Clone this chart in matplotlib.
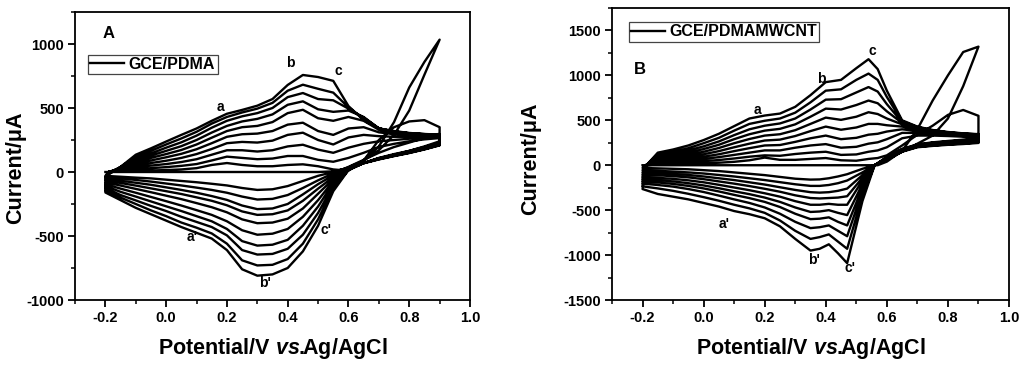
import matplotlib
matplotlib.use('Agg')
import matplotlib.pyplot as plt
from matplotlib.ticker import MultipleLocator

plt.rcParams['font.family'] = ['Liberation Sans', 'DejaVu Sans']
plt.rcParams['font.weight'] = 'bold'
plt.rcParams['axes.labelweight'] = 'bold'
plt.rcParams['axes.unicode_minus'] = False
plt.rcParams['mathtext.fontset'] = 'custom'
plt.rcParams['mathtext.rm'] = 'Liberation Sans:bold'
plt.rcParams['mathtext.it'] = 'Liberation Sans:italic:bold'
plt.rcParams['mathtext.bf'] = 'Liberation Sans:bold'

# ---- panel A: GCE/PDMA ----
# potentials of the anodic (forward) and cathodic (reverse) sweeps, V
E_fwd_A = [-0.2, -0.19, -0.15, -0.1, -0.05, 0.0, 0.05, 0.1, 0.15, 0.2, 0.25, 0.3,
           0.35, 0.4, 0.45, 0.5, 0.55, 0.6, 0.65, 0.7, 0.75, 0.8, 0.85, 0.9]
E_rev_A = [0.9, 0.85, 0.8, 0.75, 0.7, 0.65, 0.6, 0.55, 0.5, 0.45, 0.4, 0.35, 0.3,
           0.25, 0.2, 0.15, 0.1, 0.05, 0.0, -0.05, -0.1, -0.15, -0.2]

# anodic currents (uA), one row per scan
fwd_A = [
    [0, 0, 0, 0, 0, 0, 0, 0, 0, 0, 0, 0, 0, 0, 0, 0, 5, 30, 90, 200, 390, 660, 860, 1034],
    [-30, 0, 5, 10, 12, 15, 20, 30, 55, 70, 55, 45, 45, 55, 60, 45, 20, 10, 90, 250, 350, 395, 405, 350],
    [-40, 0, 10, 22, 30, 38, 48, 62, 90, 120, 110, 100, 105, 125, 125, 95, 80, 110, 150, 195, 220, 240, 255, 265],
    [-52, 0, 15, 35, 50, 62, 78, 100, 135, 170, 170, 160, 170, 200, 213, 175, 150, 190, 220, 240, 250, 260, 268, 275],
    [-65, 0, 20, 48, 70, 88, 110, 140, 180, 225, 235, 230, 245, 290, 307, 250, 215, 270, 290, 280, 275, 275, 278, 280],
    [-80, 0, 25, 62, 90, 115, 142, 178, 225, 275, 295, 300, 320, 370, 385, 320, 290, 340, 350, 310, 295, 288, 285, 283],
    [-95, 0, 30, 76, 110, 140, 172, 215, 268, 320, 350, 360, 390, 460, 486, 420, 400, 430, 400, 330, 305, 295, 290, 285],
    [-110, -5, 35, 90, 128, 165, 202, 250, 308, 360, 395, 415, 450, 525, 552, 490, 470, 480, 430, 340, 312, 300, 292, 288],
    [-125, -10, 38, 104, 145, 190, 232, 284, 346, 400, 435, 460, 500, 585, 617, 570, 560, 495, 425, 342, 315, 302, 294, 290],
    [-145, -15, 40, 118, 165, 215, 262, 314, 378, 430, 465, 495, 540, 635, 682, 650, 620, 505, 415, 340, 317, 303, 296, 290],
    [-160, -20, 40, 135, 185, 238, 290, 340, 400, 455, 485, 518, 570, 680, 758, 742, 712, 515, 405, 340, 320, 305, 297, 292],
]
# cathodic currents (uA), one row per scan
rev_A = [
    [1034, 760, 480, 290, 170, 90, 35, 0, -30, -70, -110, -135, -140, -125, -105, -92, -80, -70, -60, -50, -44, -37, -30],
    [300, 265, 230, 195, 150, 95, 40, -10, -65, -125, -180, -210, -215, -192, -162, -140, -122, -105, -90, -75, -62, -50, -40],
    [240, 200, 165, 135, 105, 70, 30, -25, -95, -175, -250, -285, -290, -262, -218, -188, -162, -140, -120, -100, -84, -68, -52],
    [208, 176, 148, 124, 98, 68, 27, -40, -130, -225, -300, -330, -335, -308, -260, -225, -198, -172, -150, -128, -106, -86, -65],
    [210, 178, 150, 126, 100, 70, 25, -55, -170, -285, -365, -395, -400, -370, -315, -275, -243, -212, -185, -158, -132, -106, -80],
    [212, 180, 152, 128, 102, 70, 22, -70, -220, -350, -445, -482, -490, -455, -385, -335, -298, -262, -228, -195, -162, -130, -95],
    [215, 182, 155, 130, 104, 70, 20, -85, -270, -420, -530, -568, -575, -540, -445, -385, -345, -305, -268, -230, -192, -155, -110],
    [220, 185, 158, 132, 106, 70, 18, -105, -320, -490, -600, -640, -645, -610, -495, -430, -390, -350, -305, -265, -222, -180, -125],
    [225, 190, 160, 135, 108, 70, 15, -125, -370, -560, -680, -725, -730, -690, -560, -480, -435, -395, -345, -300, -250, -200, -145],
    [230, 195, 165, 140, 110, 70, 15, -150, -420, -620, -750, -800, -810, -760, -610, -520, -475, -430, -380, -330, -280, -220, -160],
]

# ---- panel B: GCE/PDMAMWCNT ----
E_fwd_B = [-0.2, -0.19, -0.15, -0.1, -0.05, 0.0, 0.05, 0.1, 0.15, 0.2, 0.25, 0.3, 0.35,
           0.4, 0.45, 0.5, 0.54, 0.57, 0.6, 0.65, 0.7, 0.75, 0.8, 0.85, 0.9]
E_rev_B = [0.9, 0.85, 0.8, 0.75, 0.7, 0.65, 0.6, 0.56, 0.52, 0.47, 0.44, 0.41, 0.38,
           0.35, 0.3, 0.25, 0.2, 0.15, 0.1, 0.05, 0.0, -0.05, -0.1, -0.15, -0.2]

fwd_B = [
    [0, 0, 0, 0, 0, 0, 0, 0, 0, 0, 0, 0, 0, 0, 0, 0, 0, 0, 40, 160, 400, 720, 1000, 1260, 1320],
    [-30, 0, 8, 12, 16, 20, 28, 38, 55, 85, 60, 60, 70, 80, 55, 50, 70, 80, 110, 220, 340, 440, 560, 615, 550],
    [-55, 0, 18, 27, 35, 45, 58, 75, 95, 110, 105, 125, 140, 150, 115, 120, 150, 165, 200, 300, 330, 330, 325, 318, 310],
    [-80, 0, 30, 42, 55, 70, 90, 115, 140, 165, 165, 195, 220, 235, 195, 205, 240, 255, 290, 360, 360, 345, 335, 326, 318],
    [-105, 0, 42, 58, 75, 95, 122, 157, 190, 220, 225, 260, 300, 330, 290, 305, 340, 350, 375, 400, 380, 360, 345, 334, 325],
    [-130, 0, 55, 75, 96, 122, 157, 200, 240, 275, 285, 325, 380, 430, 395, 420, 460, 460, 445, 430, 395, 370, 352, 340, 330],
    [-155, 0, 70, 92, 118, 150, 192, 245, 292, 330, 345, 390, 460, 530, 505, 540, 590, 570, 520, 455, 405, 375, 356, 343, 334],
    [-180, 0, 85, 110, 140, 180, 228, 290, 345, 385, 405, 455, 540, 630, 620, 670, 720, 690, 600, 470, 412, 380, 360, 346, 337],
    [-205, -5, 100, 130, 165, 210, 265, 335, 400, 440, 465, 520, 620, 730, 735, 810, 870, 820, 680, 480, 420, 384, 363, 349, 340],
    [-235, -10, 120, 150, 190, 245, 305, 385, 460, 495, 520, 585, 700, 830, 845, 950, 1020, 950, 760, 490, 425, 388, 366, 352, 343],
    [-265, -10, 140, 175, 220, 280, 350, 435, 520, 553, 575, 650, 780, 925, 950, 1080, 1180, 1070, 830, 500, 430, 392, 370, 355, 346],
]
rev_B = [
    [1320, 880, 520, 330, 240, 150, 60, 0, -40, -100, -125, -145, -158, -160, -150, -130, -110, -95, -80, -65, -55, -45, -40, -35, -30],
    [300, 285, 270, 255, 232, 182, 92, 0, -80, -170, -200, -220, -230, -230, -212, -188, -165, -145, -125, -108, -92, -80, -70, -62, -55],
    [292, 278, 264, 250, 228, 178, 88, 0, -110, -260, -285, -300, -305, -300, -275, -245, -215, -190, -165, -145, -125, -108, -96, -88, -80],
    [285, 272, 258, 245, 224, 174, 84, 0, -140, -345, -360, -365, -370, -365, -335, -295, -262, -232, -205, -180, -155, -135, -122, -112, -105],
    [278, 266, 252, 240, 220, 170, 80, 0, -170, -440, -440, -430, -440, -440, -400, -350, -312, -278, -248, -218, -190, -168, -152, -140, -130],
    [272, 260, 247, 235, 216, 166, 76, 0, -210, -555, -530, -500, -515, -520, -470, -408, -360, -322, -290, -256, -225, -200, -180, -166, -155],
    [266, 254, 242, 230, 212, 162, 72, 0, -250, -670, -630, -580, -595, -600, -540, -465, -408, -366, -330, -292, -258, -230, -208, -192, -180],
    [260, 248, 237, 225, 208, 158, 68, 0, -290, -790, -730, -670, -690, -700, -630, -540, -470, -420, -380, -338, -298, -265, -238, -220, -205],
    [254, 242, 232, 220, 204, 154, 64, 0, -340, -930, -850, -770, -800, -820, -730, -615, -530, -480, -440, -395, -355, -318, -285, -258, -235],
    [248, 236, 227, 215, 200, 150, 60, 0, -400, -1090, -980, -880, -930, -950, -820, -680, -590, -545, -510, -460, -420, -380, -350, -320, -265],
]

# peak labels: (text, potential, current)
peaks_A = [('a', 0.18, 510), ('b', 0.41, 850), ('c', 0.565, 790),
           ("a'", 0.085, -510), ("b'", 0.325, -865), ("c'", 0.525, -450)]
peaks_B = [('a', 0.175, 620), ('b', 0.386, 960), ('c', 0.552, 1275),
           ("a'", 0.068, -650), ("b'", 0.36, -1050), ("c'", 0.478, -1145)]


def draw_cv(ax, E_fwd, E_rev, fwd, rev):
    # join the sweeps in scan order into one trace
    E, I = [], []
    for k in range(len(fwd)):
        E += E_fwd
        I += fwd[k]
        if k < len(rev):
            E += E_rev
            I += rev[k]
    line, = ax.plot(E, I, color='black', lw=1.7, solid_joinstyle='round')
    return line


fig = plt.figure(figsize=(10.24, 3.67), dpi=100)
axA = fig.add_axes([75 / 1024, 67 / 367, 395 / 1024, 288 / 367])
axB = fig.add_axes([612 / 1024, 67 / 367, 397 / 1024, 292 / 367])

setups = [
    (axA, E_fwd_A, E_rev_A, fwd_A, rev_A, 'GCE/PDMA', peaks_A, 'A', (-1000, 1250),
     (0.033, 0.852), (0.07, 0.925), -0.15, 0.46),
    (axB, E_fwd_B, E_rev_B, fwd_B, rev_B, 'GCE/PDMAMWCNT', peaks_B, 'B', (-1500, 1750),
     (0.042, 0.953), (0.055, 0.79), -0.204, 0.485),
]

for ax, Ef, Er, fw, rv, name, peaks, tag, ylim, leg_pos, tag_pos, ylx, yly in setups:
    line = draw_cv(ax, Ef, Er, fw, rv)
    ax.set_xlim(-0.3, 1.0)
    ax.set_ylim(*ylim)
    ax.xaxis.set_major_locator(MultipleLocator(0.2))
    ax.xaxis.set_minor_locator(MultipleLocator(0.1))
    ax.yaxis.set_major_locator(MultipleLocator(500))
    ax.yaxis.set_minor_locator(MultipleLocator(250))
    ax.xaxis.set_major_formatter(plt.FuncFormatter(lambda v, p: f'{v:.1f}'))
    ax.tick_params(which='major', direction='out', length=5, width=1.3, labelsize=10.5,
                   top=False, right=False, pad=3)
    ax.tick_params(which='minor', direction='out', length=3, width=1.1,
                   top=False, right=False)
    for sp in ax.spines.values():
        sp.set_linewidth(1.3)
    ax.set_xlabel(r'Potential/V $vs.\!\!$Ag/AgCl', fontsize=15.5, va='center')
    ax.set_ylabel('Current/μA', fontsize=15.5, va='center', ha='center')
    ax.xaxis.set_label_coords(0.5, -0.167)
    ax.yaxis.set_label_coords(ylx, yly)
    for txt, ex, iy in peaks:
        ax.text(ex, iy, txt, fontsize=10, fontweight='bold', ha='center', va='center')
    ax.text(tag_pos[0], tag_pos[1], tag, transform=ax.transAxes, fontsize=12,
            fontweight='bold', ha='left', va='center')
    leg = ax.legend([line], [name], loc='upper left', bbox_to_anchor=leg_pos,
                    borderaxespad=0, fancybox=False, edgecolor='#444444',
                    borderpad=0.15, handlelength=2.1, handletextpad=0.3,
                    prop={'weight': 'bold', 'size': 11.5}, framealpha=1)
    leg.get_frame().set_linewidth(0.9)

fig.savefig('out.png', dpi=100)
